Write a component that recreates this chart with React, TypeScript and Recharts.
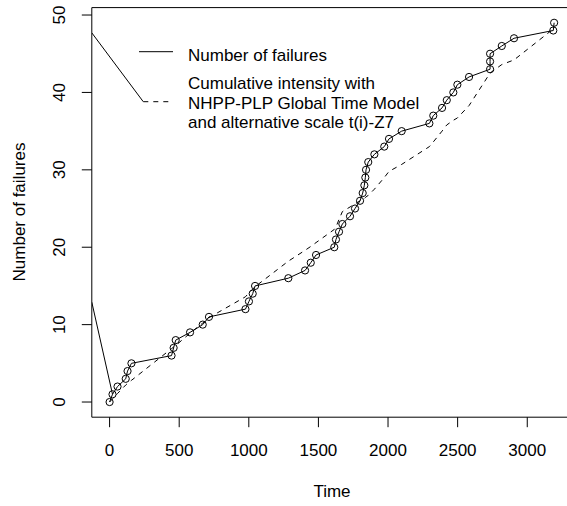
import { LineChart, Line, XAxis, YAxis, ReferenceArea, Customized } from "recharts";

// failure times and cumulative failure count
const failureTimes = [
  0, 21, 57, 116, 129, 157, 445, 460, 475, 578, 669, 714, 976, 1001, 1028, 1045, 1284, 1404, 1445, 1483,
  1614, 1626, 1648, 1672, 1727, 1763, 1799, 1818, 1830, 1837, 1842, 1858, 1902, 1973, 2007, 2098, 2297,
  2325, 2388, 2422, 2469, 2498, 2582, 2733, 2733, 2733, 2817, 2905, 3187, 3193,
];
const failureCounts = [
  0, 1, 2, 3, 4, 5, 6, 7, 8, 9, 10, 11, 12, 13, 14, 15, 16, 17, 18, 19, 20, 21, 22, 23, 24, 25, 26, 27, 28,
  29, 30, 31, 32, 33, 34, 35, 36, 37, 38, 39, 40, 41, 42, 43, 44, 45, 46, 47, 48, 49,
];
// NHPP-PLP cumulative intensity at the same times (dashed)
const modelIntensity = [
  0, 0.4, 1.1, 2.2, 2.4, 2.8, 6.9, 7.1, 7.3, 8.9, 10.2, 10.9, 13.6, 14.1, 14.6, 14.9, 18.2, 19.6, 20.1, 20.6,
  22.3, 22.6, 23.6, 24.6, 25.2, 25.6, 26.0, 26.2, 26.3, 26.4, 26.5, 26.7, 27.5, 29.0, 29.8, 30.7, 33.0, 33.6,
  35.0, 35.8, 36.4, 36.7, 38.3, 42.5, 42.5, 42.5, 43.6, 44.2, 48.2, 48.3,
];

// stray segments that run in from the left edge of the plot
const strayLowerT = [-127.7, 21];
const strayLowerN = [12.9, 1];
const strayUpperT = [-127.7, 242];
const strayUpperN = [47.7, 38.8];

const xTicks = [0, 500, 1000, 1500, 2000, 2500, 3000];
const yTicks = [0, 10, 20, 30, 40, 50];
const xDomain = [-127.7, 3320.7];
const yDomain = [-1.96, 50.96];

const data = failureTimes.map((t, i) => ({ t, failures: failureCounts[i], model: modelIntensity[i] }));
const strayLower = strayLowerT.map((t, i) => ({ t, v: strayLowerN[i] }));
const strayUpper = strayUpperT.map((t, i) => ({ t, v: strayUpperN[i] }));

const FONT = "'Liberation Sans', Arial, Helvetica, sans-serif";
const FS = 17;

function XTick(props: any) {
  return (
    <text x={props.x} y={456} textAnchor="middle" fontFamily={FONT} fontSize={FS} fill="#000">
      {props.payload.value}
    </text>
  );
}

function YTick(props: any) {
  const y = props.y;
  return (
    <text x={65} y={y} transform={`rotate(-90, 65, ${y})`} textAnchor="middle" fontFamily={FONT} fontSize={FS} fill="#000">
      {props.payload.value}
    </text>
  );
}

function Overlay() {
  return (
    <g fontFamily={FONT} fontSize={FS} fill="#000">
      <text x={332} y={497} textAnchor="middle">Time</text>
      <text x={25} y={212} transform="rotate(-90, 25, 212)" textAnchor="middle">Number of failures</text>
      <line x1={139} y1={51.7} x2={173} y2={51.7} stroke="#000" strokeWidth={1} />
      <line x1={143.3} y1={101.7} x2={173} y2={101.7} stroke="#000" strokeWidth={1} strokeDasharray="5 5" />
      <text x={188} y={61.3}>Number of failures</text>
      <text x={188} y={89}>Cumulative intensity with</text>
      <text x={188} y={108.8}>NHPP-PLP Global Time Model</text>
      <text x={188} y={128.4}>and alternative scale t(i)-Z7</text>
    </g>
  );
}

export default function App() {
  return (
    <div style={{ position: "absolute", left: 0, top: 0, width: 567, height: 506, overflow: "hidden", background: "#fff" }}>
      <LineChart width={580} height={506} data={data} margin={{ top: 7.6, right: 8.1, bottom: 0, left: 0 }}>
        <XAxis
          dataKey="t"
          type="number"
          domain={xDomain}
          allowDataOverflow
          ticks={xTicks}
          interval={0}
          height={88.8}
          axisLine={false}
          tickSize={10}
          tickLine={{ stroke: "#000", strokeWidth: 1 }}
          tick={<XTick />}
        />
        <YAxis
          type="number"
          domain={yDomain}
          allowDataOverflow
          ticks={yTicks}
          interval={0}
          width={91.8}
          axisLine={false}
          tickSize={10}
          tickLine={{ stroke: "#000", strokeWidth: 1 }}
          tick={<YTick />}
        />
        <ReferenceArea
          x1={xDomain[0]}
          x2={xDomain[1]}
          y1={yDomain[0]}
          y2={yDomain[1]}
          fill="none"
          fillOpacity={0}
          stroke="#000"
          strokeWidth={1}
          ifOverflow="visible"
        />
        <Line
          dataKey="model"
          stroke="#000"
          strokeWidth={1}
          strokeDasharray="5 5"
          dot={false}
          activeDot={false}
          isAnimationActive={false}
          type="linear"
        />
        <Line
          dataKey="failures"
          stroke="#000"
          strokeWidth={1}
          dot={{ r: 3.6, stroke: "#000", strokeWidth: 1, fill: "none" }}
          activeDot={false}
          isAnimationActive={false}
          type="linear"
        />
        <Line
          data={strayLower}
          dataKey="v"
          stroke="#000"
          strokeWidth={1}
          dot={false}
          activeDot={false}
          isAnimationActive={false}
          type="linear"
        />
        <Line
          data={strayUpper}
          dataKey="v"
          stroke="#000"
          strokeWidth={1}
          dot={false}
          activeDot={false}
          isAnimationActive={false}
          type="linear"
        />
        <Customized component={<Overlay />} />
      </LineChart>
    </div>
  );
}
